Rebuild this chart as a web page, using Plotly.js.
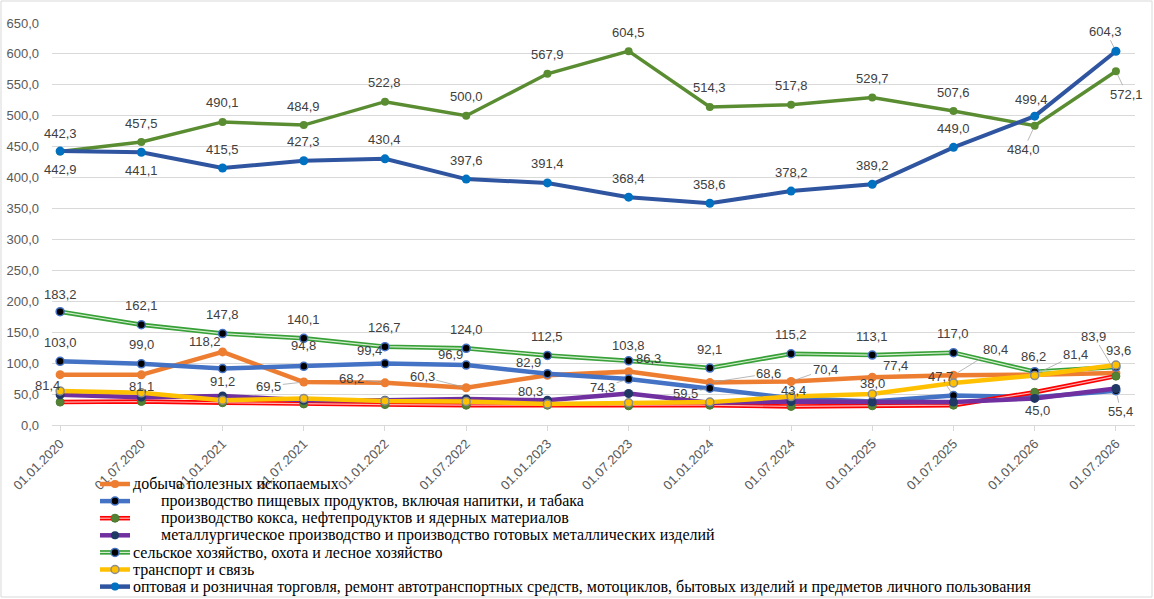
<!DOCTYPE html>
<html>
<head>
<meta charset="utf-8">
<script src="https://cdn.plot.ly/plotly-3.0.1.min.js"></script>
<style>html,body{margin:0;padding:0;background:#fff;}#chart{width:1154px;height:599px;}</style>
</head>
<body>
<div id="chart"></div>
<script>
// ---- data ----
const dates = ['01.01.2020','01.07.2020','01.01.2021','01.07.2021','01.01.2022','01.07.2022','01.01.2023','01.07.2023','01.01.2024','01.07.2024','01.01.2025','01.07.2025','01.01.2026','01.07.2026'];
const mining    = [81.4, 81.1, 118.2, 69.5, 68.2, 60.3, 80.3, 86.3, 68.6, 70.4, 77.4, 80.4, 81.4, 83.9];
const food      = [103.0, 99.0, 91.2, 94.8, 99.4, 96.9, 82.9, 74.3, 59.5, 43.4, 38.0, 47.7, 45.0, 55.4];
const coke      = [37, 38, 36, 34, 33, 32, 32, 31, 32, 30, 31, 32, 53, 79];
const metal     = [49, 45, 47, 40, 40, 42, 40, 51, 36, 38, 37, 37, 43, 59];
const agri      = [183.2, 162.1, 147.8, 140.1, 126.7, 124.0, 112.5, 103.8, 92.1, 115.2, 113.1, 117.0, 86.2, 93.6];
const transport = [55, 52, 40, 43, 39, 38, 34, 36, 37, 46, 50, 68, 80, 97];
const trade     = [442.9, 441.1, 415.5, 427.3, 430.4, 397.6, 391.4, 368.4, 358.6, 378.2, 389.2, 449.0, 499.4, 604.3];
const other     = [442.3, 457.5, 490.1, 484.9, 522.8, 500.0, 567.9, 604.5, 514.3, 517.8, 529.7, 507.6, 484.0, 572.1];
const IND = '\u00A0\u00A0\u00A0\u00A0\u00A0\u00A0\u00A0';
const names = [
  'добыча полезных ископаемых',
  IND + 'производство пищевых продуктов, включая напитки, и табака',
  IND + 'производство кокса, нефтепродуктов и ядерных материалов',
  IND + 'металлургическое производство и производство готовых металлических изделий',
  'сельское хозяйство, охота и лесное хозяйство',
  'транспорт и связь',
  'оптовая и розничная торговля, ремонт автотранспортных средств, мотоциклов, бытовых изделий и предметов личного пользования'
];
const yTicks = [0,50,100,150,200,250,300,350,400,450,500,550,600,650];

// ---- styles ----
const sty = [
  {line:'#ED7D31', inner:null, mfill:'#ED7D31', mline:'#ED7D31', mw:0},
  {line:'#4472C4', inner:null, mfill:'#000000', mline:'#4472C4', mw:1.5},
  {line:'#FF0000', inner:'#FFB3B3', mfill:'#548235', mline:'#4A7A2C', mw:1},
  {line:'#7030A0', inner:null, mfill:'#203864', mline:'#203864', mw:0},
  {line:'#37A037', inner:'#D5EED0', mfill:'#000000', mline:'#4472C4', mw:1.5},
  {line:'#FFC000', inner:null, mfill:'#FFC000', mline:'#8C8C8C', mw:1.5},
  {line:'#2F55A0', inner:null, mfill:'#0070C0', mline:'#0070C0', mw:0}
];

// ---- label offsets (px): [dx, dy(down), leader] ----
const offOther = dates.map((d,i)=> i===0?[0,-18,0]: i===12?[-11,24,1]: i===13?[11,23,1]:[0,-19,0]);
const offTrade = dates.map((d,i)=> i<2?[0,18,0]: i===12?[-3,-17,0]: i===13?[-10,-20,1]:[0,-19,0]);
const offAgri  = dates.map((d,i)=> i===0?[0,-17,0]: i===7?[0,-15,0]: i===12?[-1,-15,0]: i===13?[3,-17,0]:[0,-19,0]);
const offMining = [[-13,11,0],[0,12,0],[-18,-10,0],[-35,4,1],[-33,-4,1],[-44,-11,1],[-17,16,0],[20,-13,0],[59,-9,1],[34,-12,1],[23,-12,0],[42,-26,1],[41,-20,1],[-22,-37,1]];
const offFood = [[0,-19,0],[0,-19,0],[0,13,0],[0,-21,0],[-15,-13,0],[-16,-11,0],[-19,-11,0],[-26,8,1],[-24,5,1],[2,-8,0],[0,-18,0],[-13,-19,1],[3,13,0],[5,21,1]];

const L = 52, R = 19, T = 23, B = 174;
const pw = 1154 - L - R, ph = 599 - T - B;
const px2x = p => (p - L) / pw;
const px2y = p => (T + ph - p) / ph;

const fmt = v => v.toFixed(1).replace('.', ',');
const annotations = [];
function addLabels(vals, offs){
  vals.forEach((v,i)=>{
    const o = offs[i];
    const a = {x: dates[i], y: v, xref:'x', yref:'y', text: fmt(v),
      font:{family:'Liberation Sans, Arial, sans-serif', size:13, color:'#404040'}};
    if(o[2]){
      Object.assign(a,{showarrow:true, ax:o[0], ay:o[1], arrowhead:0, arrowwidth:0.8, arrowcolor:'#A6A6A6', standoff:4});
    } else {
      Object.assign(a,{showarrow:false, xshift:o[0], yshift:-o[1]});
    }
    annotations.push(a);
  });
}
addLabels(other, offOther);
addLabels(trade, offTrade);
addLabels(agri, offAgri);
addLabels(mining, offMining);
addLabels(food, offFood);

// ---- manual legend ----
const shapes = [{type:'rect', xref:'paper', yref:'paper',
    x0:px2x(1), x1:px2x(1152), y0:px2y(597), y1:px2y(1),
    line:{color:'#D9D9D9', width:1}, fillcolor:'rgba(0,0,0,0)', layer:'below'}];
names.forEach((n,k)=>{
  const yc = 484 + 17.1*k;
  const s = sty[k];
  shapes.push({type:'line', xref:'paper', yref:'paper', x0:px2x(100), x1:px2x(130), y0:px2y(yc), y1:px2y(yc),
    line:{color:s.line, width:4.5}});
  if(s.inner) shapes.push({type:'line', xref:'paper', yref:'paper', x0:px2x(100), x1:px2x(130), y0:px2y(yc), y1:px2y(yc),
    line:{color:s.inner, width:1.2}});
  shapes.push({type:'circle', xref:'paper', yref:'paper', xsizemode:'pixel', ysizemode:'pixel',
    xanchor:px2x(115), yanchor:px2y(yc), x0:-4, x1:4, y0:-4, y1:4,
    fillcolor:s.mfill, line:{color:s.mline, width:s.mw || 0.1}});
  annotations.push({xref:'paper', yref:'paper', x:px2x(131), y:px2y(yc), xanchor:'left', yanchor:'middle',
    showarrow:false, text:n, font:{family:'Liberation Serif', size:16, color:'#000000'}});
});

const mk = k => ({color:sty[k].mfill, size:sty[k].mw?8:9, line:{color:sty[k].mline, width:sty[k].mw}});
const traces = [
  {x:dates, y:other, mode:'lines+markers', name:'other',
   line:{color:'#5A8D32', width:3.5}, marker:{color:'#5A8D32', size:8}},
  {x:dates, y:mining, mode:'lines+markers', name:names[0], line:{color:sty[0].line, width:4.5}, marker:mk(0)},
  {x:dates, y:food, mode:'lines+markers', name:names[1], line:{color:sty[1].line, width:4.5}, marker:mk(1)},
  {x:dates, y:coke, mode:'lines', name:names[2], line:{color:sty[2].line, width:4.5}},
  {x:dates, y:coke, mode:'lines', name:'coke inner', line:{color:sty[2].inner, width:1.2}},
  {x:dates, y:coke, mode:'markers', name:'coke markers', marker:mk(2)},
  {x:dates, y:metal, mode:'lines+markers', name:names[3], line:{color:sty[3].line, width:4.5}, marker:mk(3)},
  {x:dates, y:agri, mode:'lines', name:names[4], line:{color:sty[4].line, width:4.5}},
  {x:dates, y:agri, mode:'lines', name:'agri inner', line:{color:sty[4].inner, width:1.2}},
  {x:dates, y:agri, mode:'markers', name:'agri markers', marker:mk(4)},
  {x:dates, y:transport, mode:'lines+markers', name:names[5], line:{color:sty[5].line, width:4.5}, marker:mk(5)},
  {x:dates, y:trade, mode:'lines+markers', name:names[6], line:{color:sty[6].line, width:4}, marker:mk(6)}
];

const layout = {
  width:1154, height:599,
  margin:{l:L, r:R, t:T, b:B, pad:0, autoexpand:false},
  paper_bgcolor:'#ffffff', plot_bgcolor:'#ffffff',
  separators:',.',
  showlegend:false,
  xaxis:{type:'category', categoryorder:'array', categoryarray:dates,
    range:[-0.1, 13.235], tickangle:-45, automargin:false,
    tickfont:{family:'Liberation Sans, Arial, sans-serif', size:13, color:'#595959'},
    showgrid:false, showline:true, linecolor:'#D9D9D9', linewidth:1,
    ticks:'outside', ticklen:5, tickcolor:'#D9D9D9', zeroline:false},
  yaxis:{range:[0,650], tickvals:yTicks, tickformat:'.1f', automargin:false,
    tickfont:{family:'Liberation Sans, Arial, sans-serif', size:13, color:'#595959'},
    showgrid:true, gridcolor:'#D9D9D9', gridwidth:1, zeroline:false, showline:false,
    ticks:'', ticklabelstandoff:12},
  annotations: annotations,
  shapes: shapes
};
Plotly.newPlot('chart', traces, layout, {displayModeBar:false, staticPlot:true});
</script>
</body>
</html>
